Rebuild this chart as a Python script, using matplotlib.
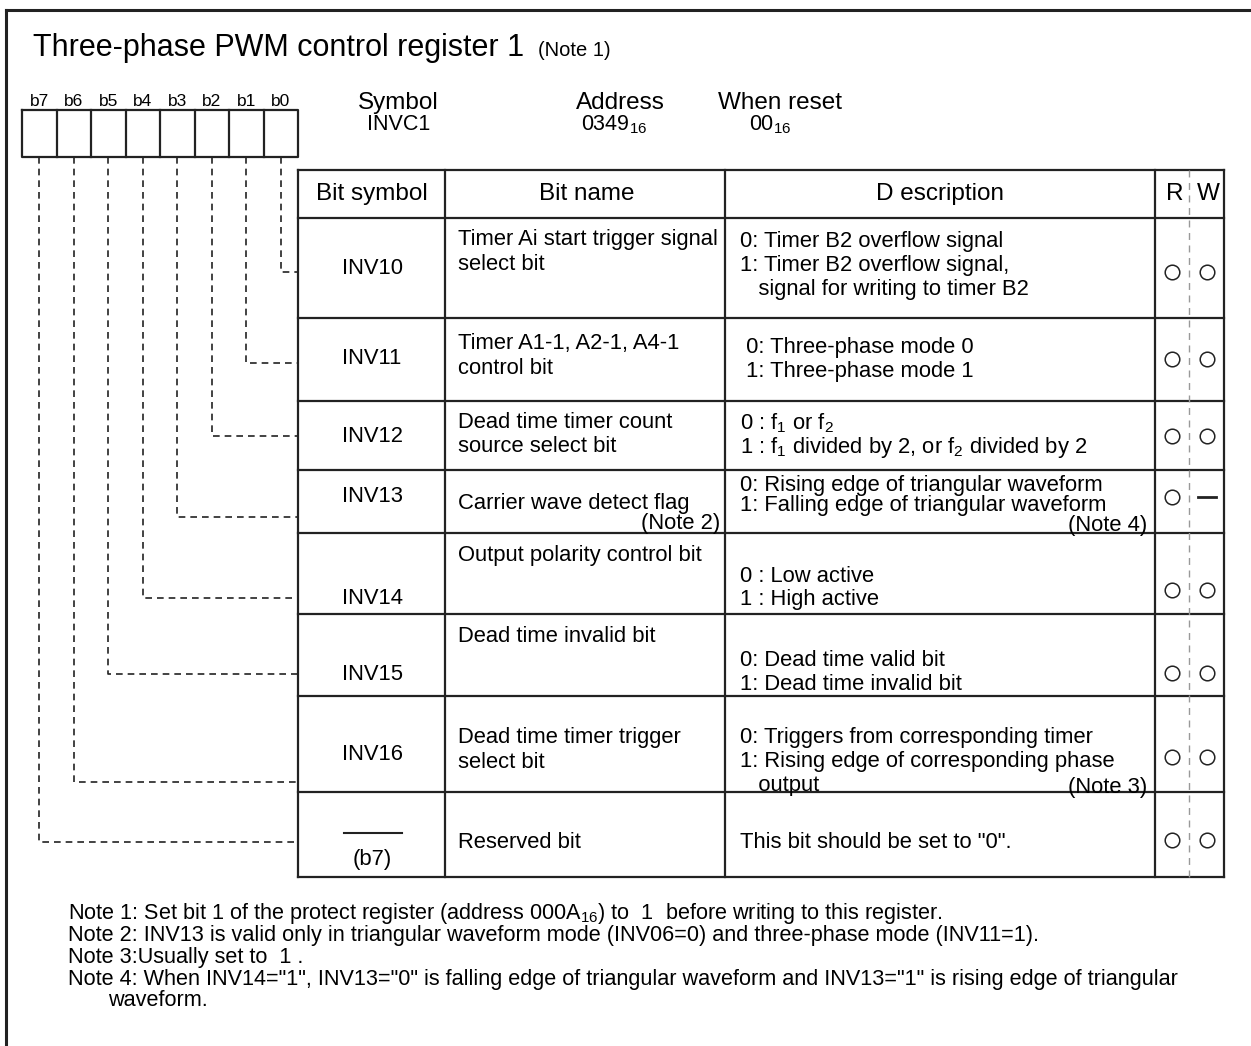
import matplotlib.pyplot as plt

plt.rcParams['font.family'] = ['Liberation Sans', 'DejaVu Sans']
plt.rcParams['mathtext.fontset'] = 'custom'
plt.rcParams['mathtext.rm'] = 'Liberation Sans'
plt.rcParams['mathtext.it'] = 'Liberation Sans'

# --- content ---
title = "Three-phase PWM control register 1"
bit_labels = ["b7", "b6", "b5", "b4", "b3", "b2", "b1", "b0"]
header_cols = ["Bit symbol", "Bit name", "D escription", "R", "W"]
symbols = ["INV10", "INV11", "INV12", "INV13", "INV14", "INV15", "INV16", "(b7)"]
bit_names = [
    ["Timer Ai start trigger signal", "select bit"],
    ["Timer A1-1, A2-1, A4-1", "control bit"],
    ["Dead time timer count", "source select bit"],
    ["Carrier wave detect flag"],
    ["Output polarity control bit"],
    ["Dead time invalid bit"],
    ["Dead time timer trigger", "select bit"],
    ["Reserved bit"],
]
descriptions = [
    ["0: Timer B2 overflow signal", "1: Timer B2 overflow signal,", "   signal for writing to timer B2"],
    [" 0: Three-phase mode 0", " 1: Three-phase mode 1"],
    ["0 : f$_{1}$ or f$_{2}$", "1 : f$_{1}$ divided by 2, or f$_{2}$ divided by 2"],
    ["0: Rising edge of triangular waveform", "1: Falling edge of triangular waveform"],
    ["0 : Low active", "1 : High active"],
    ["0: Dead time valid bit", "1: Dead time invalid bit"],
    ["0: Triggers from corresponding timer", "1: Rising edge of corresponding phase", "   output"],
    ['This bit should be set to "0".'],
]
r_access = ["o", "o", "o", "o", "o", "o", "o", "o"]
w_access = ["o", "o", "o", "-", "o", "o", "o", "o"]
notes = [
    "Note 1: Set bit 1 of the protect register (address 000A$_{16}$) to  1  before writing to this register.",
    "Note 2: INV13 is valid only in triangular waveform mode (INV06=0) and three-phase mode (INV11=1).",
    "Note 3:Usually set to  1 .",
    'Note 4: When INV14="1", INV13="0" is falling edge of triangular waveform and INV13="1" is rising edge of triangular',
    "waveform.",
]

# --- layout (pixel coordinates) ---
W, H = 1251, 1046
fig = plt.figure(figsize=(W / 100, H / 100), dpi=100)
ax = fig.add_axes([0, 0, 1, 1])
ax.set_xlim(0, W)
ax.set_ylim(H, 0)
ax.axis('off')

ink = '#222'
lw = 1.6
# outer frame
ax.plot([6, 6], [10, H], color=ink, lw=2.2)
ax.plot([6, W], [10, 10], color=ink, lw=2.2)

# title
ax.text(33, 48, title, fontsize=22, va='center', ha='left')
ax.text(538, 51, "(Note 1)", fontsize=14.5, va='center', ha='left')

# bit boxes
bx0, bx1, by0, by1 = 22, 298, 110, 157
bw = (bx1 - bx0) / 8
ax.plot([bx0, bx1, bx1, bx0, bx0], [by0, by0, by1, by1, by0], color=ink, lw=lw)
for i in range(1, 8):
    ax.plot([bx0 + i * bw] * 2, [by0, by1], color=ink, lw=lw)
for i, b in enumerate(bit_labels):
    ax.text(bx0 + (i + 0.5) * bw, 102, b, fontsize=12.5, ha='center', va='center')

# symbol / address / reset
ax.text(398, 103, "Symbol", fontsize=17.5, ha='center', va='center')
ax.text(399, 125, "INVC1", fontsize=15.5, ha='center', va='center')
ax.text(620, 103, "Address", fontsize=17.5, ha='center', va='center')
ax.text(614, 125, "0349$_{16}$", fontsize=15.5, ha='center', va='center')
ax.text(780, 103, "When reset", fontsize=17.5, ha='center', va='center')
ax.text(770, 125, "00$_{16}$", fontsize=15.5, ha='center', va='center')

# table
tx = [298, 445, 725, 1155, 1224]
ty = [170, 218, 318, 401, 470, 533, 614, 696, 792, 877]
for x in tx:
    ax.plot([x, x], [ty[0], ty[-1]], color=ink, lw=lw)
for y in ty:
    ax.plot([tx[0], tx[-1]], [y, y], color=ink, lw=lw)
ax.plot([1189, 1189], [ty[0], ty[-1]], color='#999', lw=1.0, ls=(0, (5, 4)))

# header
hx = [372, 587, 940, 1175, 1208]
for x, s in zip(hx, header_cols):
    ax.text(x, 194, s, fontsize=17.5, ha='center', va='center')

# rows
sym_y = [268, 358, 436, 497, 599, 675, 755, 860]
name_y = [240, 344, 423, 503, 555, 637, 738, 843]
desc_y = [241, 347, 423, 486, 576, 660, 738, 843]
mark_y = [272, 359, 436, 497, 590, 673, 757, 840]
step = 24
fs = 15.8
for i in range(8):
    ax.text(372, sym_y[i], symbols[i], fontsize=fs, ha='center', va='center')
    for k, s in enumerate(bit_names[i]):
        ax.text(458, name_y[i] + k * step, s, fontsize=fs, ha='left', va='center')
    dstep = 20 if i == 3 else step
    for k, s in enumerate(descriptions[i]):
        ax.text(740, desc_y[i] + k * dstep, s, fontsize=fs, ha='left', va='center')
    for x, m in ((1172, r_access[i]), (1207, w_access[i])):
        if m == "o":
            ax.plot(x, mark_y[i], marker='o', ms=10.5, mfc='none', mec=ink, mew=1.1)
        else:
            ax.plot([x - 9, x + 9], [mark_y[i], mark_y[i]], color=ink, lw=2)
# overline over reserved symbol
ax.plot([344, 402], [833, 833], color=ink, lw=1.5)
ax.text(720, 523, "(Note 2)", fontsize=fs, ha='right', va='center')
ax.text(1147, 526, "(Note 4)", fontsize=fs, ha='right', va='center')
ax.text(1147, 787, "(Note 3)", fontsize=fs, ha='right', va='center')

# leader lines from bit boxes to the table
lead_y = [842, 782, 674, 598, 517, 436, 363, 272]
for i in range(8):
    x = bx0 + (i + 0.5) * bw
    ax.plot([x, x, tx[0]], [by1, lead_y[i], lead_y[i]], color=ink, lw=1.2,
            ls=(0, (4, 3)))

# notes
note_x = [68, 68, 68, 68, 108]
for k, s in enumerate(notes):
    ax.text(note_x[k], 913 + 22 * k, s, fontsize=15.6, ha='left', va='center')

fig.savefig("out.png", dpi=100)
